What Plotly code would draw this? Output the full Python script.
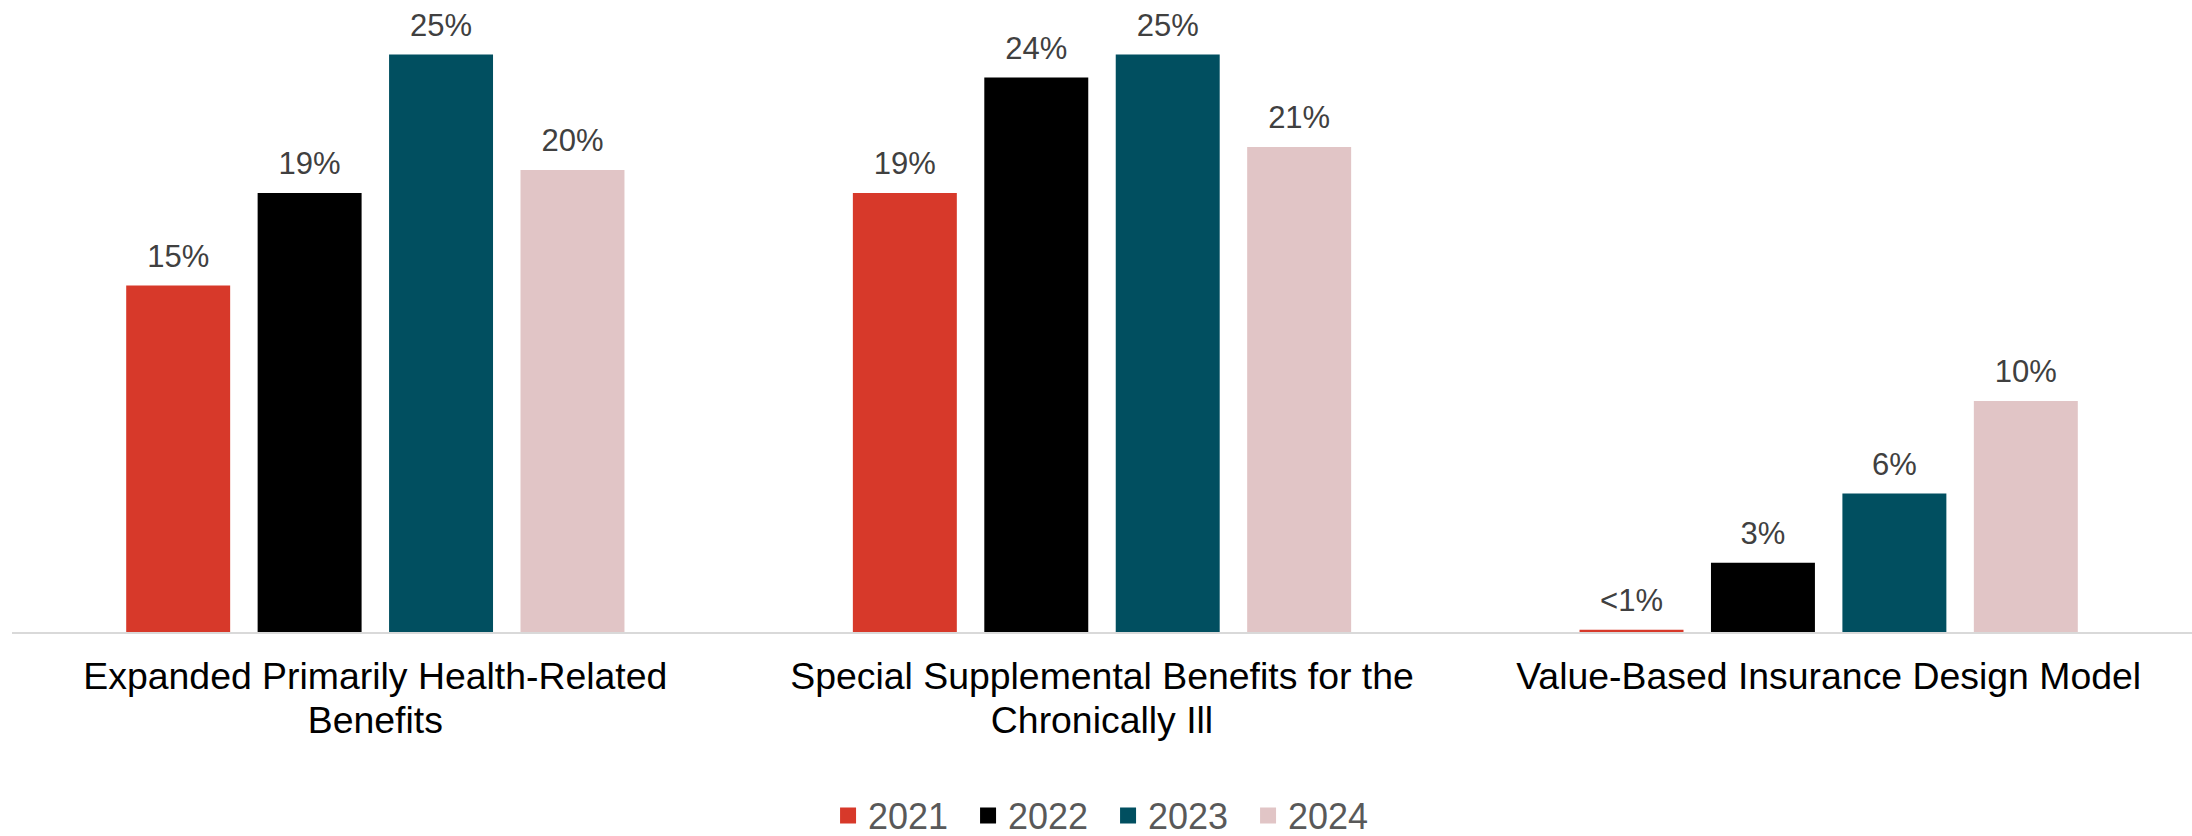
import plotly.graph_objects as go

category_lines = [
    ["Expanded Primarily Health-Related", "Benefits"],
    ["Special Supplemental Benefits for the", "Chronically Ill"],
    ["Value-Based Insurance Design Model"],
]
years = ["2021", "2022", "2023", "2024"]
v2021 = [15, 19, 0.1]
v2022 = [19, 24, 3]
v2023 = [25, 25, 6]
v2024 = [20, 21, 10]
values = [v2021, v2022, v2023, v2024]
colors = ["#D7392A", "#000000", "#014F60", "#E1C5C6"]

categories = [
    "<br>".join(f"<span style='font-size:37.4px'>{ln}</span>" for ln in lines)
    for lines in category_lines
]


def fmt(v):
    return "&lt;1%" if v < 1 else f"{v:g}%"


fig = go.Figure()
for yr, vals, col in zip(years, values, colors):
    fig.add_trace(go.Bar(
        x=categories, y=vals, name=yr, marker=dict(color=col, line=dict(width=0)),
        offsetgroup=yr, showlegend=False, hoverinfo="skip",
    ))
for yr, vals, col in zip(years, values, colors):
    fig.add_trace(go.Scatter(
        x=categories, y=vals, mode="markers+text", text=[fmt(v) for v in vals],
        textposition="top center", offsetgroup=yr, showlegend=False,
        marker=dict(size=16, opacity=0, color=col),
        textfont=dict(size=31, color="#404040", family="Liberation Sans, Arial"),
        cliponaxis=False, hoverinfo="skip",
    ))
for yr, col in zip(years, colors):
    fig.add_trace(go.Scatter(
        x=[None], y=[None], mode="markers", name=yr, offsetgroup=yr,
        marker=dict(symbol="square", size=19, color=col),
    ))

fig.update_layout(
    width=2192, height=836,
    margin=dict(l=12, r=0, t=0, b=204),
    paper_bgcolor="white", plot_bgcolor="white",
    barmode="group", bargap=0.2765, bargroupgap=0.209,
    scattermode="group", scattergap=0.2765,
    font=dict(family="Liberation Sans, Arial", size=36, color="#000000"),
    showlegend=True,
    legend=dict(
        orientation="h", xref="container", yref="container",
        x=0.5055, xanchor="center", y=0.0245, yanchor="middle",
        font=dict(size=36, color="#595959"),
        entrywidth=95, entrywidthmode="pixels",
        itemclick=False, itemdoubleclick=False,
    ),
    xaxis=dict(
        type="category", showline=True, linecolor="#D9D9D9", linewidth=2,
        ticks="", showgrid=False, zeroline=False, ticklabelstandoff=14,
        tickfont=dict(size=34, color="#000000"),
    ),
    yaxis=dict(
        range=[0, 27.36], visible=False, showgrid=False, zeroline=False,
    ),
)

fig.write_html("out.html")
